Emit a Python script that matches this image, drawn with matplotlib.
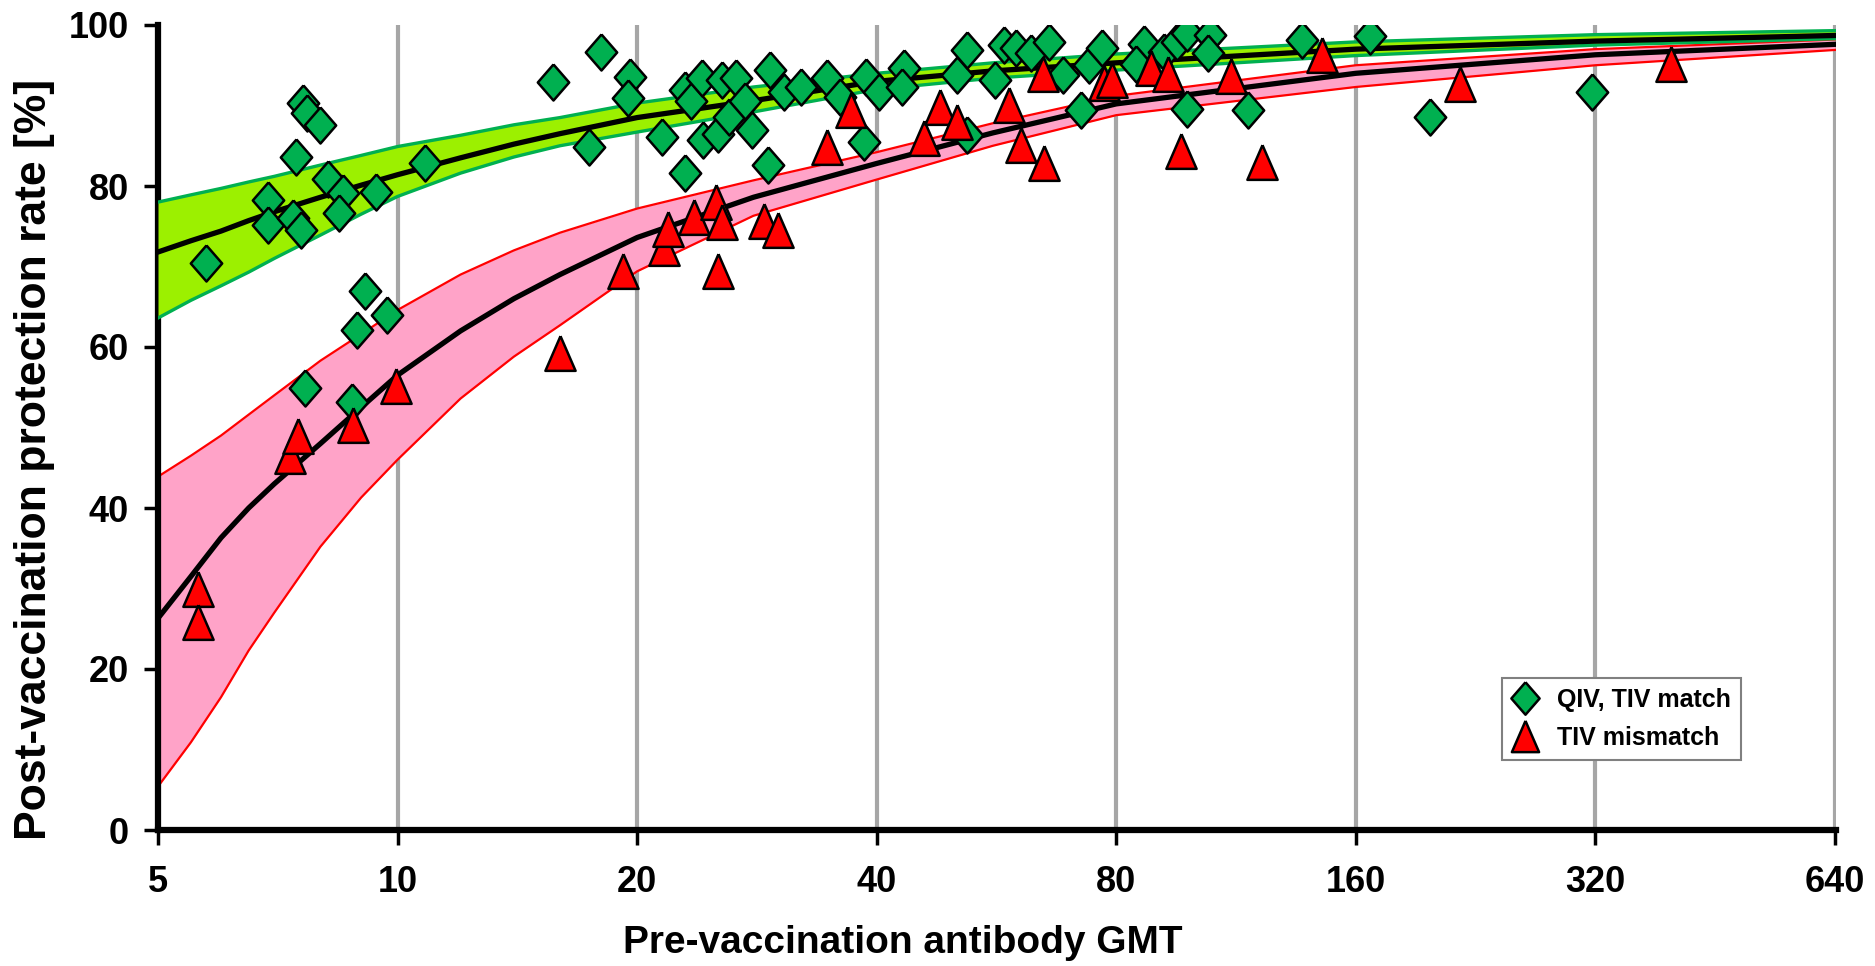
import numpy as np
import matplotlib.pyplot as plt

plt.rcParams['font.family'] = ['Liberation Sans', 'DejaVu Sans']
plt.rcParams['font.weight'] = 'bold'

# QIV, TIV match (green diamonds): pre-vaccination GMT, protection rate
match_x = [5.75, 6.87, 6.87, 7.46, 7.6, 7.7, 7.99, 7.39, 7.57, 8.17, 8.54, 8.45,
           9.4, 10.83, 9.09, 9.7, 8.88, 7.64, 8.76, 15.7, 18.0, 17.4,
           19.6, 19.5, 21.5, 23.0, 23.0, 23.4, 24.1, 24.2, 25.3, 25.6, 26.1, 26.6,
           27.3, 27.9, 29.2, 29.4, 30.6, 32.1, 34.6, 36.0, 38.6, 38.8, 40.3, 43.3,
           43.0, 50.5, 52.0, 52.0, 56.3, 57.8, 59.9, 62.6, 65.9, 68.6, 72.2, 73.9,
           76.8, 86.8, 84.8, 91.8, 95.5, 98.3, 104.8, 104.3, 98.3, 117.2, 136.8,
           166.5, 198.6, 317.0]
match_y = [70.4, 78.3, 75.2, 83.6, 90.3, 89.1, 87.6, 76.0, 74.5, 80.9, 79.1, 76.6,
           79.3, 82.8, 66.9, 64.0, 62.1, 54.9, 53.2, 92.9, 96.7, 84.9,
           93.6, 90.9, 86.1, 81.6, 91.9, 90.5, 93.4, 85.7, 86.5, 93.2, 88.6, 93.4,
           90.5, 86.9, 82.6, 94.4, 91.7, 92.3, 93.4, 91.1, 85.5, 93.6, 91.7, 94.6,
           92.3, 93.8, 96.9, 86.3, 93.2, 97.5, 97.1, 96.5, 97.9, 93.8, 89.4, 95.0,
           97.1, 97.7, 95.2, 96.7, 97.9, 99.0, 98.8, 96.5, 89.6, 89.4, 98.1,
           98.6, 88.6, 91.7]

# TIV mismatch (red triangles)
mis_x = [5.61, 5.61, 7.32, 7.5, 8.78, 9.96, 16.0, 19.2, 21.6, 21.9, 23.6, 25.1,
         25.6, 25.3, 28.9, 30.1, 34.6, 37.1, 45.9, 48.1, 50.5, 58.6, 60.8, 65.0,
         64.7, 77.2, 79.0, 88.5, 93.0, 96.5, 111.6, 121.9, 145.0, 216.0, 398.0]
mis_y = [30.0, 25.9, 46.4, 48.9, 50.3, 55.1, 59.2, 69.5, 72.3, 74.6, 76.2, 78.0,
         75.5, 69.4, 75.7, 74.5, 84.8, 89.4, 86.0, 89.8, 87.9, 90.1, 85.1, 82.9,
         93.9, 92.8, 93.2, 94.7, 93.9, 84.4, 93.7, 83.0, 96.3, 92.7, 95.2]

# fitted curves and confidence bands
curve_x = [5, 5.5, 6, 6.5, 7, 8, 9, 10, 12, 14, 16, 20, 28, 40, 56, 80, 160, 320, 640]
green_fit = [71.8, 73.2, 74.4, 75.7, 76.8, 78.6, 80.1, 81.4, 83.5, 85.2, 86.5, 88.5,
             90.6, 93.0, 94.3, 95.3, 97.0, 98.0, 98.7]
green_hi = [78.0, 78.9, 79.7, 80.5, 81.2, 82.6, 83.8, 84.9, 86.3, 87.6, 88.5, 90.3,
            92.3, 94.0, 95.3, 96.4, 97.9, 98.8, 99.3]
green_lo = [63.6, 65.8, 67.6, 69.3, 71.0, 73.9, 76.5, 78.7, 81.6, 83.6, 85.0, 86.7,
            89.2, 92.0, 93.4, 94.4, 96.2, 97.5, 98.3]
red_fit = [26.3, 31.5, 36.3, 40.0, 43.0, 48.0, 52.5, 56.5, 62.0, 66.0, 69.0, 73.6,
           78.6, 82.8, 86.6, 90.2, 94.0, 96.3, 97.6]
red_hi = [43.9, 46.5, 49.0, 51.6, 54.0, 58.3, 61.6, 64.6, 69.0, 72.0, 74.2, 77.2,
          80.7, 84.2, 87.8, 91.2, 95.0, 97.0, 98.2]
red_lo = [5.4, 10.9, 16.5, 22.3, 27.0, 35.2, 41.3, 46.0, 53.6, 58.8, 62.7, 69.4,
          76.3, 80.8, 85.0, 88.8, 92.3, 95.0, 96.9]

xticks = [5, 10, 20, 40, 80, 160, 320, 640]
yticks = [0, 20, 40, 60, 80, 100]

# Excel-like markers, a little taller than wide
diamond = [(0, 1.15), (1, 0), (0, -1.15), (-1, 0), (0, 1.15)]
triangle = [(0, 1), (0.87, -1), (-0.87, -1), (0, 1)]

fig = plt.figure(figsize=(18.75, 9.66), dpi=100)
ax = fig.add_axes([158/1875, 1-830/966, (1836-158)/1875, 805/966])

ax.fill_between(curve_x, red_lo, red_hi, color='#ffa3c8', lw=0, zorder=1)
ax.plot(curve_x, red_hi, color='#ff0000', lw=1.6, zorder=2)
ax.plot(curve_x, red_lo, color='#ff0000', lw=1.6, zorder=2)
ax.fill_between(curve_x, green_lo, green_hi, color='#9cf000', lw=0, zorder=3)
ax.plot(curve_x, green_hi, color='#00b050', lw=2.4, zorder=4)
ax.plot(curve_x, green_lo, color='#00b050', lw=2.4, zorder=4)
ax.plot(curve_x, red_fit, color='black', lw=3.8, zorder=5)
ax.plot(curve_x, green_fit, color='black', lw=3.8, zorder=5)

ax.plot(match_x, match_y, marker=diamond, ms=26, mfc='#00b050', mec='black', mew=1.8,
        ls='none', zorder=6, label='QIV, TIV match')
ax.plot(mis_x, mis_y, marker=triangle, ms=25, mfc='#ff0000', mec='black', mew=1.8,
        ls='none', zorder=7, label='TIV mismatch')

ax.set_xscale('log', base=2)
ax.set_xlim(5, 642)
ax.set_ylim(0, 100)
ax.set_xticks(xticks)
ax.set_xticklabels([str(t) for t in xticks])
ax.minorticks_off()
ax.set_yticks(yticks)

ax.grid(axis='x', color='#a6a6a6', lw=3)
ax.set_axisbelow(True)
for s in ['top', 'right']:
    ax.spines[s].set_visible(False)
for s in ['left', 'bottom']:
    ax.spines[s].set_linewidth(4.5)
ax.tick_params(axis='y', direction='out', length=10, width=2.5, pad=11, labelsize=26)
ax.tick_params(axis='x', direction='out', length=11, width=2.5, pad=14, labelsize=26)

ax.set_ylabel('Post-vaccination protection rate [%]', fontsize=32, fontweight='bold')
ax.yaxis.set_label_coords(-0.0614, 0.46)
ax.set_xlabel('Pre-vaccination antibody GMT', fontsize=28, fontweight='bold')
ax.xaxis.set_label_coords(0.444, -0.118)

leg = ax.legend(loc='lower left', bbox_to_anchor=(0.801, 0.087), borderaxespad=0,
                fancybox=False, edgecolor='#808080', framealpha=1,
                handletextpad=0.8, borderpad=0.4, labelspacing=0.55, handlelength=1.0,
                markerscale=0.9, prop={'weight': 'bold', 'size': 18})
leg.get_frame().set_linewidth(1.5)

fig.savefig('out.png', dpi=100)
